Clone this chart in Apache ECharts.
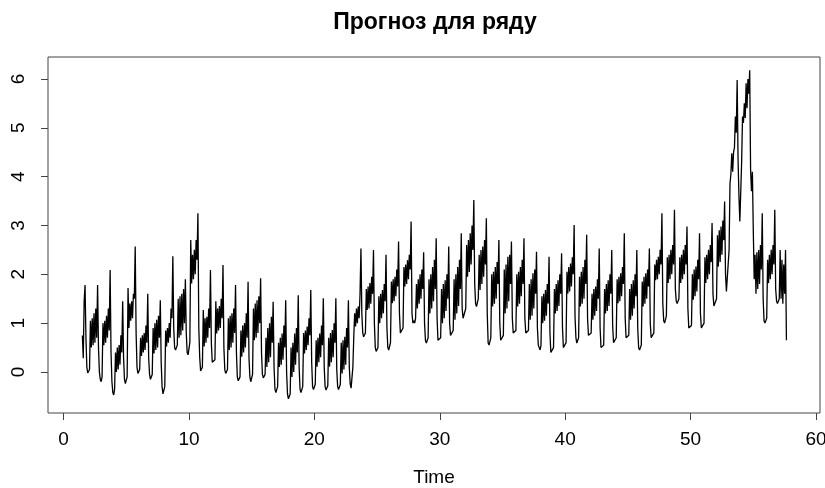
<!DOCTYPE html>
<html>
<head>
<meta charset="utf-8">
<script src="https://cdn.jsdelivr.net/npm/echarts@6/dist/echarts.min.js"></script>
<style>
  html, body { margin: 0; padding: 0; background: #fff; }
  #chart { width: 825px; height: 488px; }
</style>
</head>
<body>
<div id="chart"></div>
<script>
// ts: start time and points per time unit (2 per day, 7 days per unit)
const tsStart = 1.5
const tsFreq = 14

// values, week by week
const seriesValues = [
  0.75, 0.28, 1.45, 1.78, 0.7, 0.1, -0.02,
  -0.03, 0.05, 1.05, 0.5, 1.1, 0.55, 1.2, 0.6, 1.3, 0.7, 1.78, 0.5, 0.0, -0.15,
  -0.2, -0.1, 1.0, 0.55, 1.05, 0.6, 1.15, 0.7, 1.3, 0.85, 2.09, 0.4, -0.2, -0.42,
  -0.47, -0.35, 0.4, 0.0, 0.5, 0.05, 0.55, 0.15, 0.75, 0.4, 1.45, 0.3, -0.15, -0.24,
  -0.26, -0.1, 1.72, 0.9, 1.4, 1.05, 1.45, 1.1, 1.6, 1.5, 2.57, 0.8, 0.1, -0.03,
  -0.03, 0.05, 0.7, 0.33, 0.75, 0.4, 0.8, 0.45, 0.95, 0.6, 1.6, 0.3, -0.05, -0.15,
  -0.17, -0.05, 0.9, 0.38, 1.0, 0.45, 1.07, 0.5, 1.15, 0.7, 1.47, 0.2, -0.3, -0.45,
  -0.47, -0.3, 0.85, 0.52, 0.9, 0.6, 1.0, 0.7, 1.3, 1.1, 2.37, 0.9, 0.5, 0.45,
  0.45, 0.55, 1.5, 0.7, 1.55, 0.75, 1.6, 0.85, 1.7, 1.0, 1.9, 0.8, 0.4, 0.35,
  0.35, 0.6, 2.7, 1.81, 2.4, 1.9, 2.5, 2.0, 2.7, 2.3, 3.25, 0.9, 0.3, 0.02,
  0.0, 0.1, 1.27, 0.52, 1.1, 0.6, 1.13, 0.7, 1.3, 0.9, 2.09, 0.6, 0.2, 0.17,
  0.17, 0.25, 1.45, 0.79, 1.3, 0.85, 1.35, 0.9, 1.5, 1.1, 2.19, 0.5, 0.05, -0.03,
  -0.03, 0.05, 1.1, 0.45, 1.15, 0.5, 1.2, 0.6, 1.3, 0.8, 1.78, 0.4, -0.1, -0.18,
  -0.2, -0.1, 0.85, 0.31, 0.95, 0.4, 1.0, 0.5, 1.2, 0.7, 1.85, 0.3, -0.1, -0.2,
  -0.2, -0.05, 1.3, 0.65, 1.4, 0.7, 1.47, 0.8, 1.55, 1.0, 1.92, 0.4, -0.05, -0.12,
  -0.13, -0.05, 0.7, 0.1, 0.9, 0.2, 1.0, 0.3, 1.13, 0.6, 1.44, 0.1, -0.35, -0.42,
  -0.43, -0.3, 0.6, 0.1, 0.7, 0.15, 0.79, 0.25, 0.95, 0.5, 1.47, 0.0, -0.45, -0.55,
  -0.57, -0.45, 0.5, -0.1, 0.6, 0.0, 0.79, 0.15, 0.9, 0.4, 1.57, 0.1, -0.35, -0.42,
  -0.43, -0.3, 0.8, 0.38, 0.85, 0.45, 0.93, 0.55, 1.1, 0.75, 1.68, 0.2, -0.3, -0.36,
  -0.37, -0.25, 0.65, 0.11, 0.7, 0.2, 0.79, 0.3, 0.95, 0.55, 1.51, 0.1, -0.3, -0.37,
  -0.37, -0.28, 0.7, 0.11, 0.8, 0.2, 0.86, 0.3, 1.0, 0.6, 1.51, 0.05, -0.3, -0.36,
  -0.37, -0.25, 0.6, -0.03, 0.65, 0.05, 0.72, 0.15, 0.9, 0.5, 1.47, 0.1, -0.25, -0.33,
  -0.33, 0.1, 0.72, 1.2, 0.93, 1.3, 1.0, 1.34, 1.1, 1.6, 2.53, 1.2, 0.8, 0.72,
  0.72, 0.8, 1.7, 1.27, 1.75, 1.3, 1.82, 1.4, 1.95, 1.6, 2.5, 1.0, 0.5, 0.42,
  0.42, 0.5, 1.55, 1.0, 1.6, 1.1, 1.68, 1.2, 1.8, 1.45, 2.4, 0.9, 0.5, 0.45,
  0.45, 0.6, 1.85, 1.41, 1.9, 1.45, 1.95, 1.55, 2.1, 1.75, 2.67, 1.2, 0.8, 0.76,
  0.76, 0.9, 2.15, 1.75, 2.2, 1.8, 2.29, 1.9, 2.4, 2.1, 3.08, 1.2, 1.0, 1.05,
  1.0, 1.1, 1.8, 1.3, 1.9, 1.4, 2.0, 1.5, 2.1, 1.7, 2.45, 1.0, 0.65, 0.59,
  0.59, 0.7, 1.9, 1.2, 2.0, 1.3, 2.15, 1.45, 2.3, 1.7, 2.74, 1.1, 0.65, 0.62,
  0.62, 0.7, 1.7, 1.0, 1.8, 1.1, 1.88, 1.25, 2.0, 1.5, 2.57, 1.0, 0.75, 0.72,
  0.72, 0.85, 1.9, 1.07, 2.0, 1.2, 2.15, 1.35, 2.3, 1.7, 2.84, 1.3, 1.1, 1.07,
  1.07, 1.3, 2.6, 1.95, 2.7, 2.05, 2.84, 2.2, 3.0, 2.5, 3.52, 1.8, 1.4, 1.34,
  1.34, 1.5, 2.4, 1.68, 2.5, 1.8, 2.57, 1.95, 2.7, 2.2, 3.15, 1.2, 0.6, 0.55,
  0.55, 0.7, 2.0, 1.34, 2.05, 1.4, 2.15, 1.5, 2.25, 1.8, 2.7, 1.0, 0.65, 0.62,
  0.62, 0.75, 2.1, 1.2, 2.2, 1.3, 2.36, 1.45, 2.4, 1.8, 2.67, 1.1, 0.8, 0.76,
  0.76, 0.85, 2.0, 1.34, 2.05, 1.4, 2.15, 1.55, 2.3, 1.8, 2.74, 1.1, 0.8, 0.79,
  0.79, 0.85, 1.8, 1.07, 1.9, 1.15, 2.02, 1.3, 2.1, 1.6, 2.46, 0.9, 0.55, 0.52,
  0.45, 0.55, 1.55, 1.0, 1.6, 1.05, 1.68, 1.15, 1.8, 1.4, 2.36, 0.8, 0.4, 0.38,
  0.38, 0.5, 1.7, 1.2, 1.8, 1.25, 1.88, 1.35, 2.0, 1.6, 2.43, 0.9, 0.5, 0.48,
  0.48, 0.6, 2.05, 1.61, 2.15, 1.65, 2.22, 1.75, 2.35, 2.0, 3.01, 1.13, 0.7, 0.59,
  0.59, 0.7, 1.95, 1.34, 2.05, 1.4, 2.15, 1.5, 2.3, 1.8, 2.81, 1.1, 0.75, 0.72,
  0.72, 0.8, 1.6, 1.07, 1.7, 1.15, 1.75, 1.25, 1.9, 1.5, 2.53, 0.9, 0.5, 0.48,
  0.48, 0.55, 1.7, 1.2, 1.8, 1.25, 1.88, 1.35, 2.0, 1.6, 2.5, 0.95, 0.6, 0.59,
  0.59, 0.7, 1.9, 1.41, 1.95, 1.45, 2.02, 1.55, 2.15, 1.8, 2.84, 1.1, 0.7, 0.66,
  0.66, 0.75, 1.7, 1.07, 1.8, 1.15, 1.88, 1.3, 2.0, 1.55, 2.5, 0.9, 0.5, 0.45,
  0.45, 0.55, 1.85, 1.34, 1.95, 1.4, 2.02, 1.5, 2.1, 1.75, 2.53, 1.0, 0.7, 0.66,
  0.66, 0.8, 2.2, 1.88, 2.3, 1.9, 2.36, 2.0, 2.5, 2.2, 3.25, 1.4, 1.05, 1.0,
  1.0, 1.15, 2.35, 1.82, 2.4, 1.9, 2.5, 2.0, 2.6, 2.2, 3.32, 1.7, 1.45, 1.4,
  1.4, 1.5, 2.35, 1.82, 2.4, 1.9, 2.5, 2.0, 2.6, 2.2, 2.98, 1.3, 0.9, 0.86,
  0.86, 0.95, 2.0, 1.48, 2.1, 1.55, 2.16, 1.65, 2.3, 1.9, 2.84, 1.2, 0.9, 0.89,
  0.89, 1.0, 2.35, 1.82, 2.4, 1.9, 2.5, 2.0, 2.6, 2.25, 3.05, 1.6, 1.35, 1.34,
  1.34, 1.5, 2.8, 2.16, 2.9, 2.25, 2.98, 2.4, 3.1, 2.7, 3.49, 2.0, 1.65, 1.61,
  1.61, 2.5, 3.86, 4.05, 4.48, 4.1, 4.5, 4.6, 5.23, 4.9, 5.98, 4.35, 3.6, 3.08,
  3.08, 4.3, 5.23, 5.1, 5.5, 5.2, 5.91, 5.4, 6.0, 5.7, 6.18, 4.14, 3.7, 4.1,
  2.9, 1.9, 2.4, 1.6, 2.45, 1.7, 2.5, 1.8, 2.6, 2.1, 3.25, 1.5, 1.05, 1.0,
  1.0, 1.1, 2.3, 1.82, 2.4, 1.9, 2.5, 2.0, 2.6, 2.2, 3.32, 1.7, 1.45, 1.4,
  1.4, 1.5, 2.5, 1.5, 2.3, 1.4, 2.2, 1.6, 2.5, 0.65
]

const xTicks = [0, 10, 20, 30, 40, 50, 60]
const yTicks = [0, 1, 2, 3, 4, 5, 6]

const chart = echarts.init(document.getElementById('chart'), null, { renderer: 'canvas' })

const points = seriesValues.map((v, i) => [tsStart + i / tsFreq, v])

const fontFamily = '"Liberation Sans", Arial, sans-serif'

const option = {
  animation: false,
  backgroundColor: '#fff',
  title: {
    text: 'Прогноз для ряду',
    left: 430,
    top: 6,
    textAlign: 'center',
    textStyle: { fontFamily, fontSize: 23, fontWeight: 'bold', color: '#000' }
  },
  grid: {
    left: 48,
    right: 5,
    top: 57,
    bottom: 75,
    outerBoundsMode: 'none',
    show: true,
    borderColor: '#444',
    borderWidth: 1
  },
  xAxis: {
    type: 'value',
    min: -1.24,
    max: 60.32,
    name: 'Time',
    nameLocation: 'middle',
    nameGap: 55,
    nameTextStyle: { fontFamily, fontSize: 19, color: '#000' },
    axisLine: { show: false, onZero: false },
    axisTick: { show: true, length: 7, customValues: xTicks, lineStyle: { color: '#444' } },
    axisLabel: { customValues: xTicks, fontFamily, fontSize: 19, color: '#000', margin: 17 },
    splitLine: { show: false }
  },
  yAxis: {
    type: 'value',
    min: -0.84,
    max: 6.45,
    axisLine: { show: false, onZero: false },
    axisTick: { show: true, length: 7, customValues: yTicks, lineStyle: { color: '#444' } },
    axisLabel: { customValues: yTicks, rotate: 90, fontFamily, fontSize: 19, color: '#000', margin: 20 },
    splitLine: { show: false }
  },
  series: [
    {
      type: 'line',
      data: points,
      showSymbol: false,
      symbol: 'none',
      lineStyle: { color: '#000', width: 1.3 },
      silent: true
    }
  ]
}

chart.setOption(option)
</script>
</body>
</html>
